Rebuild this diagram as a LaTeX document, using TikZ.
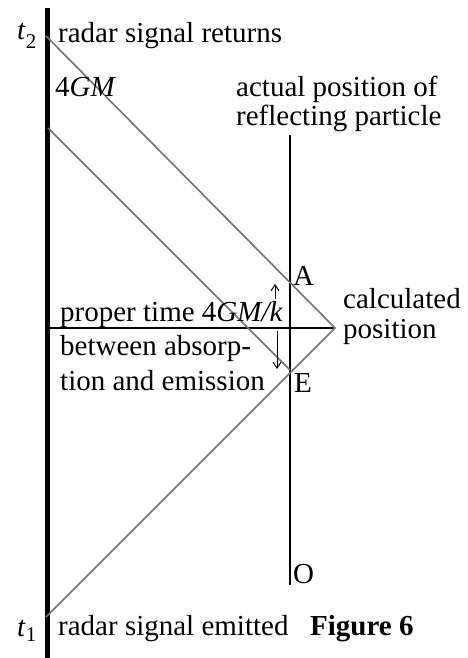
\documentclass[tikz,border=0pt]{standalone}
\usepackage{fontspec}
\setmainfont{Liberation Serif}
\usetikzlibrary{arrows.meta}
\definecolor{raygray}{gray}{0.45}
\newcommand{\subs}[1]{\raisebox{-0.3em}{\fontsize{21}{21}\selectfont #1}}
\begin{document}
\begin{tikzpicture}[x=1pt,y=-1pt,
  lbl/.style={anchor=base west, inner sep=0pt, font=\fontsize{29}{31}\selectfont},
  ray/.style={draw=raygray, line width=1.6pt},
  tick/.style={draw=black, line width=1pt, -{Straight Barb[length=6pt,width=8pt]}}]
\useasboundingbox (0,0) rectangle (468,658);
% world lines
\coordinate (obsTop) at (47.5,8);
\coordinate (obsBot) at (47.5,658);
\coordinate (partTop) at (290,135);
\coordinate (partBot) at (290,585);
\draw[line width=5pt] (obsTop) -- (obsBot);
\draw[line width=2.2pt] (partTop) -- (partBot);
% events
\coordinate (T2) at (46,36);
\coordinate (T2b) at (48,128);
\coordinate (T1) at (46,617);
\coordinate (V) at (335,328);
\coordinate (H) at (48,328);
\coordinate (A) at (290,283);
\coordinate (E) at (290,370);
\draw[line width=1.6pt] (H) -- (V);
\draw[ray] (T2) -- (V) -- (T1);
\draw[ray] (T2b) -- (E);
% interval arrows
\coordinate (upS) at (275,299);
\coordinate (upE) at (275,284);
\coordinate (dnS) at (277,331);
\coordinate (dnE) at (277,369);
\draw[tick] (upS) -- (upE);
\draw[tick] (dnS) -- (dnE);
% labels
\node[lbl] (lt2) at (17,40) {\textit{t}\subs{2}};
\node[lbl] (lret) at (58,43) {radar signal returns};
\node[lbl] (l4gm) at (55,97) {4\textit{GM}};
\node[lbl] (lact1) at (236,97) {actual position of};
\node[lbl] (lact2) at (236,125) {reflecting particle};
\node[lbl] (lA) at (293,285) {A};
\node[lbl] (lcal1) at (343,308) {calculated};
\node[lbl] (lcal2) at (343,338) {position};
\node[lbl] (lE) at (294,392) {E};
\node[lbl] (lpt1) at (60,321) {proper time 4\textit{GM/k}};
\node[lbl] (lpt2) at (60,355) {between absorp-};
\node[lbl] (lpt3) at (60,390) {tion and emission};
\node[lbl] (lO) at (293,583) {O};
\node[lbl] (lt1) at (17,636) {\textit{t}\raisebox{-0.2em}{\fontsize{21}{21}\selectfont 1}};
\node[lbl] (lemi) at (58,635) {radar signal emitted};
\node[lbl] (lfig) at (310,635) {\textbf{Figure 6}};
\end{tikzpicture}
\end{document}
